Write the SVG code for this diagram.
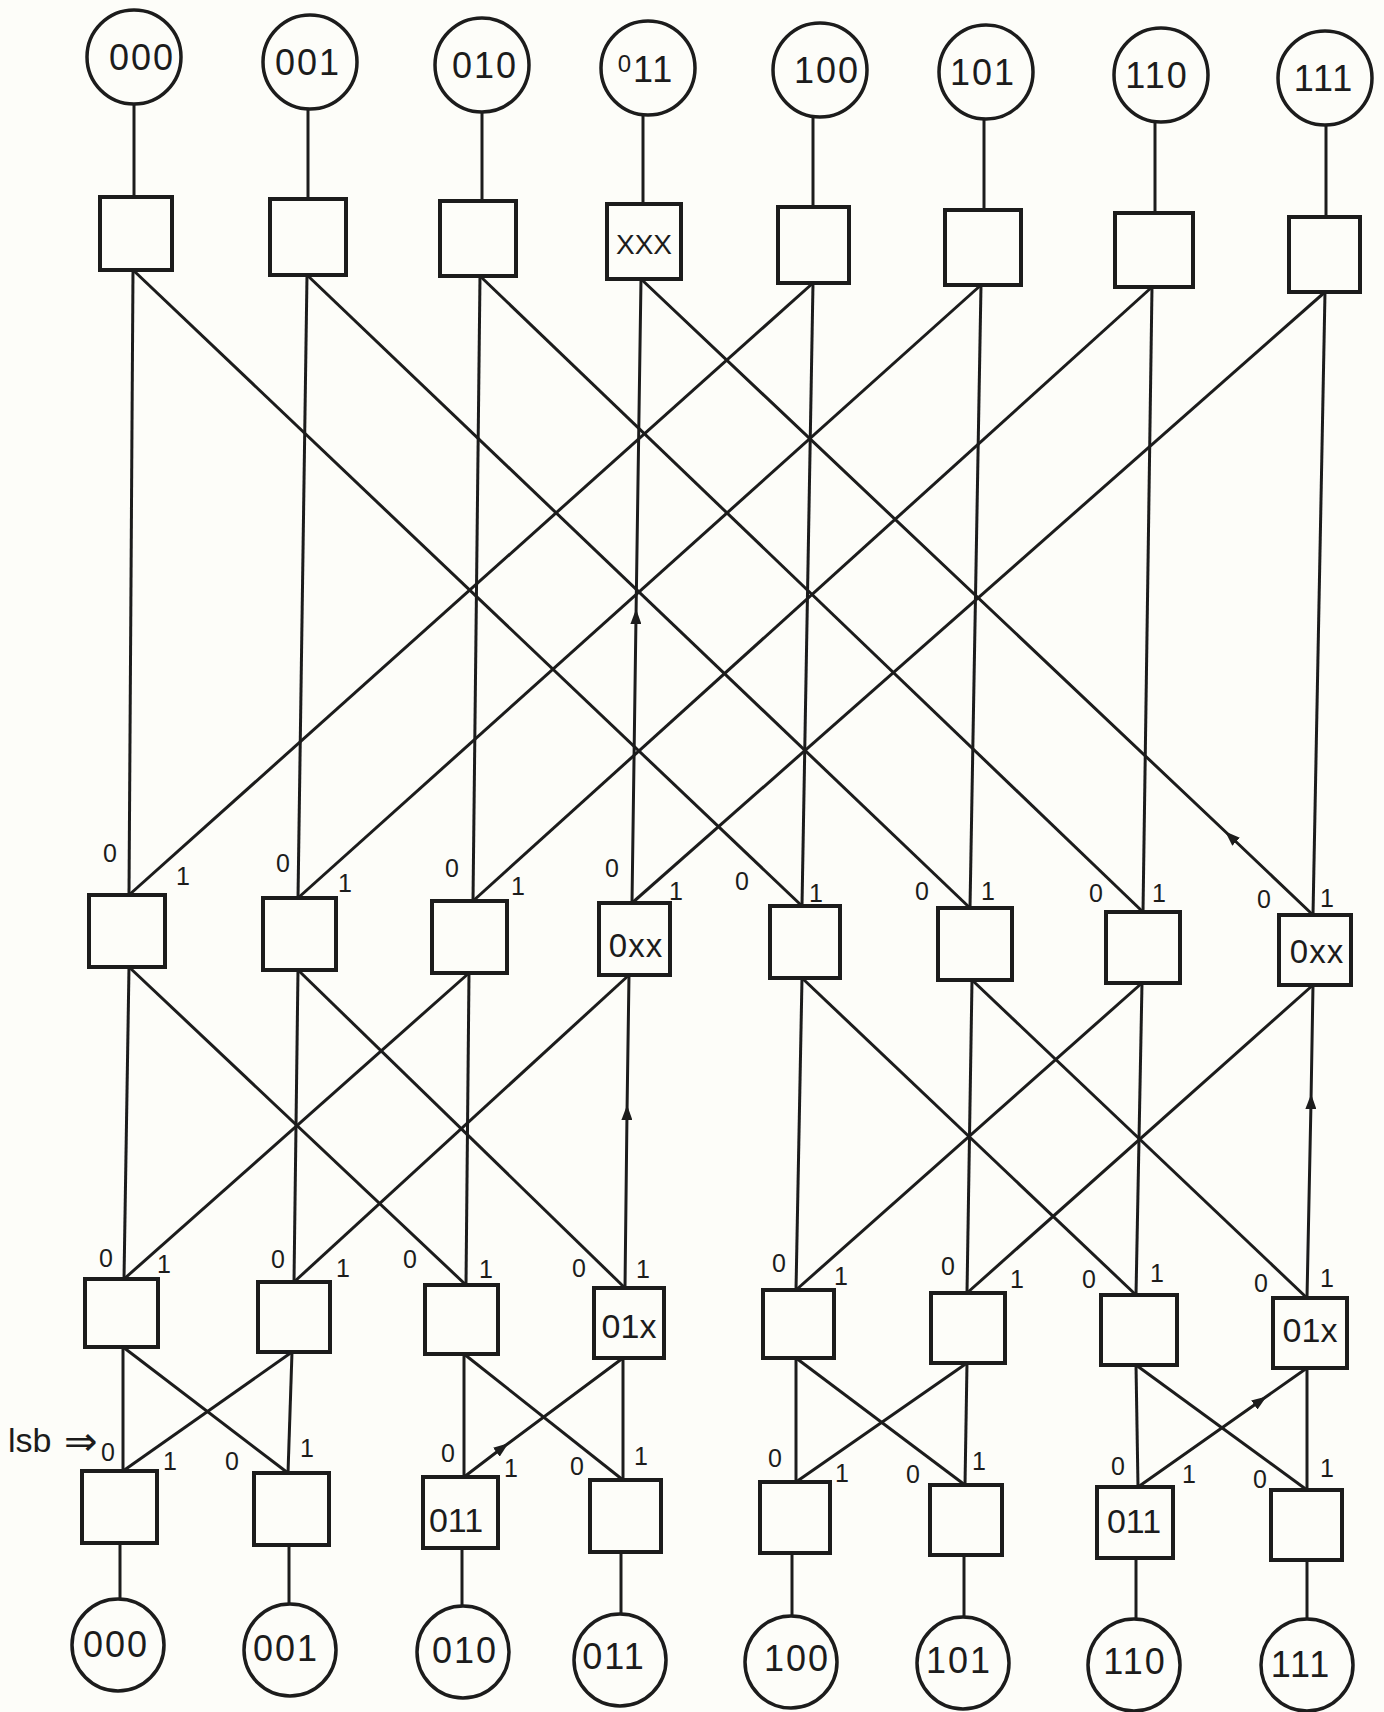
<svg xmlns="http://www.w3.org/2000/svg" width="1384" height="1712" viewBox="0 0 1384 1712">
<style>
.ln{stroke:#1c1c1c;stroke-width:3;fill:none}
.bx{fill:none;stroke:#1c1c1c;stroke-width:4}
.cr{fill:none;stroke:#1c1c1c;stroke-width:3.5}
.ct{font-family:"Liberation Sans",Arial,sans-serif;font-size:36px;fill:#1c1c1c;text-anchor:middle;letter-spacing:2px}
.bt{font-family:"Liberation Sans",Arial,sans-serif;fill:#1c1c1c;text-anchor:middle}
.lb{font-family:"Liberation Sans",Arial,sans-serif;font-size:25px;fill:#1c1c1c;text-anchor:middle}
</style>
<defs>
<marker id="ah" viewBox="0 0 15 11" refX="7" refY="5.5" markerWidth="15" markerHeight="11" markerUnits="userSpaceOnUse" orient="auto">
<path d="M0,0 L15,5.5 L0,11 z" fill="#1c1c1c"/>
</marker>
</defs>
<rect width="1384" height="1712" fill="#fdfdf9"/>

<g id="connectors">
<!-- circles to top boxes -->
<path class="ln" d="M134 104 V197"/>
<path class="ln" d="M308 109 V199"/>
<path class="ln" d="M482 112 V201"/>
<path class="ln" d="M643 115 V204"/>
<path class="ln" d="M813 117 V207"/>
<path class="ln" d="M984 119 V210"/>
<path class="ln" d="M1155 122 V213"/>
<path class="ln" d="M1326 125 V217"/>
<!-- stage 1 verticals -->
<path class="ln" d="M133 270 L129 895"/>
<path class="ln" d="M307 275 L298 898"/>
<path class="ln" d="M480 276 L473 901"/>
<path class="ln" d="M632 903 L636 617 L641 279" marker-mid="url(#ah)"/>
<path class="ln" d="M813 283 L802 906"/>
<path class="ln" d="M981 285 L970 908"/>
<path class="ln" d="M1152 287 L1143 912"/>
<path class="ln" d="M1325 292 L1313 915"/>
<!-- stage 1 diagonals -->
<path class="ln" d="M133 270 L802 906"/>
<path class="ln" d="M307 275 L970 908"/>
<path class="ln" d="M480 276 L1143 912"/>
<path class="ln" d="M1313 915 L1231 837 L641 279" marker-mid="url(#ah)"/>
<path class="ln" d="M813 283 L129 895"/>
<path class="ln" d="M981 285 L298 898"/>
<path class="ln" d="M1152 287 L473 901"/>
<path class="ln" d="M1325 292 L632 903"/>
<!-- stage 2 verticals -->
<path class="ln" d="M129 967 L124 1279"/>
<path class="ln" d="M298 970 L294 1282"/>
<path class="ln" d="M469 973 L466 1285"/>
<path class="ln" d="M625 1288 L627 1113 L629 975" marker-mid="url(#ah)"/>
<path class="ln" d="M802 978 L796 1290"/>
<path class="ln" d="M972 980 L967 1293"/>
<path class="ln" d="M1142 983 L1136 1295"/>
<path class="ln" d="M1307 1298 L1311 1102 L1313 985" marker-mid="url(#ah)"/>
<!-- stage 2 diagonals -->
<path class="ln" d="M129 967 L466 1285"/>
<path class="ln" d="M469 973 L124 1279"/>
<path class="ln" d="M298 970 L625 1288"/>
<path class="ln" d="M629 975 L294 1282"/>
<path class="ln" d="M802 978 L1136 1295"/>
<path class="ln" d="M1142 983 L796 1290"/>
<path class="ln" d="M972 980 L1307 1298"/>
<path class="ln" d="M1313 985 L967 1293"/>
<!-- stage 3 verticals -->
<path class="ln" d="M123 1347 L123 1471"/>
<path class="ln" d="M292 1352 L288 1473"/>
<path class="ln" d="M464 1354 L464 1477"/>
<path class="ln" d="M623 1358 L623 1480"/>
<path class="ln" d="M796 1358 L796 1482"/>
<path class="ln" d="M967 1363 L965 1485"/>
<path class="ln" d="M1136 1365 L1138 1487"/>
<path class="ln" d="M1307 1368 L1307 1490"/>
<!-- stage 3 diagonals -->
<path class="ln" d="M123 1347 L288 1473"/>
<path class="ln" d="M292 1352 L123 1471"/>
<path class="ln" d="M464 1354 L623 1480"/>
<path class="ln" d="M464 1477 L502 1448 L623 1358" marker-mid="url(#ah)"/>
<path class="ln" d="M796 1358 L965 1485"/>
<path class="ln" d="M967 1363 L796 1482"/>
<path class="ln" d="M1136 1365 L1307 1490"/>
<path class="ln" d="M1138 1487 L1260 1401 L1307 1368" marker-mid="url(#ah)"/>
<!-- bottom boxes to circles -->
<path class="ln" d="M120 1543 V1599"/>
<path class="ln" d="M289 1545 V1604"/>
<path class="ln" d="M462 1548 V1606"/>
<path class="ln" d="M621 1552 V1614"/>
<path class="ln" d="M792 1553 V1616"/>
<path class="ln" d="M964 1555 V1617"/>
<path class="ln" d="M1136 1558 V1619"/>
<path class="ln" d="M1307 1560 V1620"/>
</g>

<!-- top circles -->
<g id="in-000"><circle class="cr" cx="134" cy="57" r="47"/><text class="ct" x="142" y="70">000</text></g>
<g id="in-001"><circle class="cr" cx="310" cy="62" r="47"/><text class="ct" x="308" y="75">001</text></g>
<g id="in-010"><circle class="cr" cx="482" cy="65" r="47"/><text class="ct" x="485" y="78">010</text></g>
<g id="in-011"><circle class="cr" cx="648" cy="68" r="47"/><text class="ct" x="646" y="82"><tspan font-size="24" dy="-10">0</tspan><tspan dy="10">11</tspan></text></g>
<g id="in-100"><circle class="cr" cx="820" cy="70" r="47"/><text class="ct" x="827" y="83">100</text></g>
<g id="in-101"><circle class="cr" cx="986" cy="72" r="47"/><text class="ct" x="983" y="85">101</text></g>
<g id="in-110"><circle class="cr" cx="1161" cy="75" r="47"/><text class="ct" x="1157" y="88">110</text></g>
<g id="in-111"><circle class="cr" cx="1325" cy="78" r="47"/><text class="ct" x="1324" y="91">111</text></g>

<!-- top boxes -->
<g id="t1"><rect class="bx" x="100" y="197" width="72" height="73"/></g>
<g id="t2"><rect class="bx" x="270" y="199" width="76" height="76"/></g>
<g id="t3"><rect class="bx" x="440" y="201" width="76" height="75"/></g>
<g id="t4"><rect class="bx" x="607" y="204" width="74" height="75"/><text class="bt" x="644" y="254" font-size="28">XXX</text></g>
<g id="t5"><rect class="bx" x="778" y="207" width="71" height="76"/></g>
<g id="t6"><rect class="bx" x="945" y="210" width="76" height="75"/></g>
<g id="t7"><rect class="bx" x="1115" y="213" width="78" height="74"/></g>
<g id="t8"><rect class="bx" x="1289" y="217" width="71" height="75"/></g>

<!-- middle boxes -->
<g id="m1"><rect class="bx" x="89" y="895" width="76" height="72"/><text class="lb" x="110" y="862">0</text><text class="lb" x="183" y="885">1</text></g>
<g id="m2"><rect class="bx" x="263" y="898" width="73" height="72"/><text class="lb" x="283" y="872">0</text><text class="lb" x="345" y="892">1</text></g>
<g id="m3"><rect class="bx" x="432" y="901" width="75" height="72"/><text class="lb" x="452" y="877">0</text><text class="lb" x="518" y="895">1</text></g>
<g id="m4"><rect class="bx" x="599" y="903" width="71" height="72"/><text class="lb" x="612" y="877">0</text><text class="lb" x="676" y="900">1</text><text class="bt" x="636" y="957" font-size="33" letter-spacing="1">0xx</text></g>
<g id="m5"><rect class="bx" x="770" y="906" width="70" height="72"/><text class="lb" x="742" y="890">0</text><text class="lb" x="816" y="902">1</text></g>
<g id="m6"><rect class="bx" x="938" y="908" width="74" height="72"/><text class="lb" x="922" y="900">0</text><text class="lb" x="988" y="900">1</text></g>
<g id="m7"><rect class="bx" x="1106" y="912" width="74" height="71"/><text class="lb" x="1096" y="902">0</text><text class="lb" x="1159" y="902">1</text></g>
<g id="m8"><rect class="bx" x="1279" y="915" width="72" height="70"/><text class="lb" x="1264" y="908">0</text><text class="lb" x="1327" y="907">1</text><text class="bt" x="1317" y="963" font-size="33" letter-spacing="1">0xx</text></g>

<!-- lower boxes -->
<g id="l1"><rect class="bx" x="85" y="1279" width="73" height="68"/><text class="lb" x="106" y="1267">0</text><text class="lb" x="164" y="1273">1</text></g>
<g id="l2"><rect class="bx" x="258" y="1282" width="72" height="70"/><text class="lb" x="278" y="1268">0</text><text class="lb" x="343" y="1277">1</text></g>
<g id="l3"><rect class="bx" x="425" y="1285" width="73" height="69"/><text class="lb" x="410" y="1268">0</text><text class="lb" x="486" y="1278">1</text></g>
<g id="l4"><rect class="bx" x="594" y="1288" width="70" height="70"/><text class="lb" x="579" y="1277">0</text><text class="lb" x="643" y="1278">1</text><text class="bt" x="629" y="1338" font-size="34">01x</text></g>
<g id="l5"><rect class="bx" x="763" y="1290" width="71" height="68"/><text class="lb" x="779" y="1272">0</text><text class="lb" x="841" y="1285">1</text></g>
<g id="l6"><rect class="bx" x="931" y="1293" width="74" height="70"/><text class="lb" x="948" y="1275">0</text><text class="lb" x="1017" y="1288">1</text></g>
<g id="l7"><rect class="bx" x="1101" y="1295" width="76" height="70"/><text class="lb" x="1089" y="1288">0</text><text class="lb" x="1157" y="1282">1</text></g>
<g id="l8"><rect class="bx" x="1273" y="1298" width="74" height="70"/><text class="lb" x="1261" y="1292">0</text><text class="lb" x="1327" y="1287">1</text><text class="bt" x="1310" y="1342" font-size="34">01x</text></g>

<!-- bottom boxes -->
<g id="b1"><rect class="bx" x="82" y="1471" width="75" height="72"/><text class="lb" x="108" y="1461" font-size="22">0</text><text class="lb" x="170" y="1470">1</text></g>
<g id="b2"><rect class="bx" x="254" y="1473" width="75" height="72"/><text class="lb" x="232" y="1470">0</text><text class="lb" x="307" y="1457">1</text></g>
<g id="b3"><rect class="bx" x="423" y="1477" width="75" height="71"/><text class="lb" x="448" y="1462">0</text><text class="lb" x="511" y="1477">1</text><text class="bt" x="456" y="1532" font-size="34">011</text></g>
<g id="b4"><rect class="bx" x="590" y="1480" width="71" height="72"/><text class="lb" x="577" y="1475">0</text><text class="lb" x="641" y="1465">1</text></g>
<g id="b5"><rect class="bx" x="760" y="1482" width="70" height="71"/><text class="lb" x="775" y="1467">0</text><text class="lb" x="842" y="1482">1</text></g>
<g id="b6"><rect class="bx" x="930" y="1485" width="72" height="70"/><text class="lb" x="913" y="1483">0</text><text class="lb" x="979" y="1470">1</text></g>
<g id="b7"><rect class="bx" x="1097" y="1487" width="76" height="71"/><text class="lb" x="1118" y="1475">0</text><text class="lb" x="1189" y="1483">1</text><text class="bt" x="1134" y="1533" font-size="34">011</text></g>
<g id="b8"><rect class="bx" x="1271" y="1490" width="71" height="70"/><text class="lb" x="1260" y="1488">0</text><text class="lb" x="1327" y="1477">1</text></g>

<!-- lsb label -->
<g id="lsb-label"><text font-family="'Liberation Sans','DejaVu Sans',sans-serif" font-size="34" fill="#1c1c1c" x="8" y="1452">lsb<tspan x="64" y="1455" font-family="'DejaVu Sans',sans-serif" font-size="40">⇒</tspan></text></g>

<!-- bottom circles -->
<g id="out-000"><circle class="cr" cx="118" cy="1645" r="46"/><text class="ct" x="116" y="1657">000</text></g>
<g id="out-001"><circle class="cr" cx="290" cy="1650" r="46"/><text class="ct" x="286" y="1661">001</text></g>
<g id="out-010"><circle class="cr" cx="463" cy="1652" r="46"/><text class="ct" x="465" y="1663">010</text></g>
<g id="out-011"><circle class="cr" cx="620" cy="1660" r="46"/><text class="ct" x="614" y="1669">011</text></g>
<g id="out-100"><circle class="cr" cx="791" cy="1662" r="46"/><text class="ct" x="797" y="1671">100</text></g>
<g id="out-101"><circle class="cr" cx="963" cy="1663" r="46"/><text class="ct" x="959" y="1673">101</text></g>
<g id="out-110"><circle class="cr" cx="1134" cy="1665" r="46"/><text class="ct" x="1135" y="1674">110</text></g>
<g id="out-111"><circle class="cr" cx="1307" cy="1665" r="46"/><text class="ct" x="1301" y="1677">111</text></g>
</svg>
